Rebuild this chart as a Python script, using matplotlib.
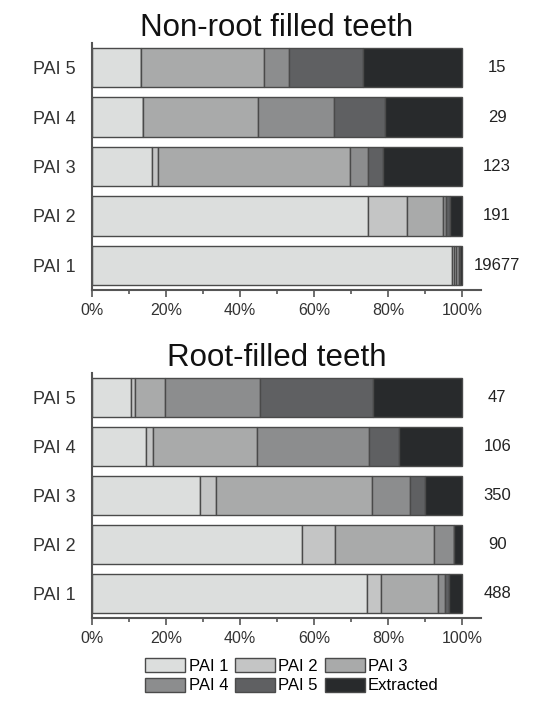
import matplotlib.pyplot as plt
from matplotlib.patches import Patch

plt.rcParams["font.family"] = ["Liberation Sans", "DejaVu Sans"]

filas: list[str] = ["PAI 1", "PAI 2", "PAI 3", "PAI 4", "PAI 5"]
categorias: list[str] = ["PAI 1", "PAI 2", "PAI 3", "PAI 4", "PAI 5", "Extracted"]
colores: list[str] = ["#dcdedd", "#c4c5c5", "#a9aaaa", "#8c8d8e", "#5f6062", "#282a2c"]

# porcentajes por fila (PAI 1..PAI 5), columnas = categorias
no_obturados: list[list[float]] = [
    [97.3, 0.5, 0.5, 1.0, 0.2, 0.5],
    [74.7, 10.5, 9.6, 1.0, 1.0, 3.2],
    [16.3, 1.6, 51.8, 4.8, 4.1, 21.4],
    [13.8, 0.0, 31.0, 20.7, 13.8, 20.7],
    [13.3, 0.0, 33.3, 6.7, 20.0, 26.7],
]
n_no_obturados: list[int] = [19677, 191, 123, 29, 15]

obturados: list[list[float]] = [
    [74.3, 3.9, 15.2, 2.0, 1.0, 3.6],
    [56.8, 9.0, 26.5, 5.4, 0.0, 2.3],
    [29.3, 4.3, 42.1, 10.3, 3.9, 10.1],
    [14.6, 1.8, 28.2, 30.2, 8.1, 17.1],
    [10.5, 1.0, 8.1, 25.9, 30.4, 24.1],
]
n_obturados: list[int] = [488, 90, 350, 106, 47]

titulos: list[str] = ["Non-root filled teeth", "Root-filled teeth"]


def dibujar(ax, datos, conteos, titulo, pad):
    y = list(range(len(filas)))
    izq = [0.0] * len(filas)
    for j, color in enumerate(colores):
        vals = [fila[j] for fila in datos]
        ax.barh(y, vals, left=izq, height=0.8, color=color,
                edgecolor="#4a4a4a", linewidth=1.0)
        izq = [a + b for a, b in zip(izq, vals)]
    for yi, n in zip(y, conteos):
        ax.text(109.5, yi, str(n), ha="center", va="center", fontsize=12,
                color="#222222", clip_on=False)
    ax.set_xlim(0, 105)
    ax.set_ylim(-0.5, 4.5)
    ax.set_yticks(y)
    ax.set_yticklabels(filas, fontsize=13, color="#333333")
    ax.tick_params(axis="y", length=0, pad=12)
    ax.set_xticks([0, 20, 40, 60, 80, 100])
    ax.set_xticklabels(["0%", "20%", "40%", "60%", "80%", "100%"],
                       fontsize=11.5, color="#333333")
    ax.set_xticks([10, 30, 50, 70, 90], minor=True)
    ax.tick_params(axis="x", which="major", length=5, width=1.2,
                   color="#555555", pad=4)
    ax.tick_params(axis="x", which="minor", length=3, width=1.2,
                   color="#555555")
    for lado in ["top", "right"]:
        ax.spines[lado].set_visible(False)
    for lado in ["left", "bottom"]:
        ax.spines[lado].set_color("#555555")
        ax.spines[lado].set_linewidth(1.5)
    ax.set_title(titulo, fontsize=22.5, x=50 / 105, pad=pad, color="#111111")


def main() -> None:
    fig = plt.figure(figsize=(5.39, 7.24), dpi=100)
    ax1 = fig.add_axes([0.1707, 0.5994, 0.7208, 0.3412])
    ax2 = fig.add_axes([0.1707, 0.1464, 0.7208, 0.3384])
    dibujar(ax1, no_obturados, n_no_obturados, titulos[0], 4)
    dibujar(ax2, obturados, n_obturados, titulos[1], 5)

    handles = [Patch(facecolor=c, edgecolor="#4a4a4a", linewidth=1.0)
               for c in colores]
    # la leyenda se llena por columnas: reordenar para leer por filas
    orden = [0, 3, 1, 4, 2, 5]
    fig.legend([handles[i] for i in orden], [categorias[i] for i in orden],
               loc="upper center", bbox_to_anchor=(292 / 539, 1 - 658 / 724),
               ncol=3, frameon=False, fontsize=12, handlelength=2.4,
               handleheight=0.9, handletextpad=0.2, columnspacing=0.4,
               labelspacing=0.25, borderaxespad=0, borderpad=0)

    fig.savefig("out.png", dpi=100)


if __name__ == "__main__":
    main()
